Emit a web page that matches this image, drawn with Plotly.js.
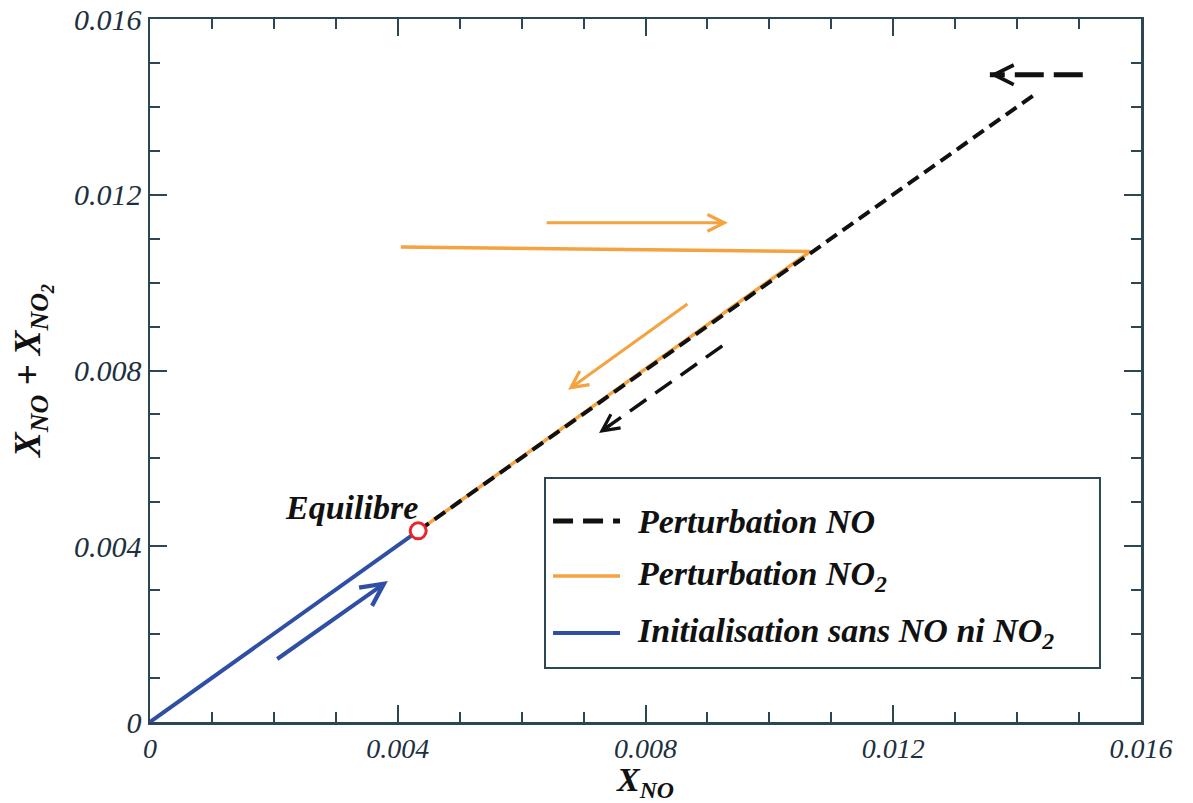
<!DOCTYPE html>
<html>
<head>
<meta charset="utf-8">
<script src="https://cdn.plot.ly/plotly-3.0.1.min.js"></script>
<style>html,body{margin:0;padding:0;background:#fff;}#chart{width:1193px;height:803px;}</style>
</head>
<body>
<div id="chart"></div>
<script>
// ---- data (mole fractions) ----
const blueX = [0, 0.00433];
const blueY = [0, 0.00435];
const orangeX = [0.00405, 0.01066, 0.00433];
const orangeY = [0.01081, 0.01071, 0.00435];
const blackX = [0.00433, 0.01427];
const blackY = [0.00435, 0.01427];
const eqX = [0.00433];
const eqY = [0.00435];

const tickVals = [0, 0.004, 0.008, 0.012, 0.016];
const tickText = ["0", "0.004", "0.008", "0.012", "0.016"];

const seriesNames = ["Perturbation NO", "Perturbation NO<sub>2</sub>", "Initialisation sans NO ni NO<sub>2</sub>"];
const xTitle = "<b><i>X<sub>NO</sub></i></b>";
const yTitle = "<b><i>X<sub>NO</sub> + X<sub>NO<sub>2</sub></sub></i></b>";

// arrows: [tailX, tailY, headX, headY]
const arrowOrangeRight = [0.00638, 0.01136, 0.00933, 0.01136];
const arrowOrangeDiag = [0.00870, 0.00954, 0.00675, 0.00756];
const arrowBlackDiag = [0.00924, 0.00856, 0.00725, 0.00658];
const arrowBlackTop = [0.01506, 0.01473, 0.01356, 0.01473];
const arrowBlue = [0.00203, 0.00141, 0.00384, 0.00321];

const C_BLACK = "#111111", C_ORANGE = "#f4a340", C_BLUE = "#2f4fa6", C_RED = "#e8262a";
const AX = "#2d4654";
const FONT = "Liberation Serif";

const traces = [
  {x: orangeX, y: orangeY, mode: "lines", line: {color: C_ORANGE, width: 3.5}, name: seriesNames[1], showlegend: false, hoverinfo: "skip"},
  {x: blackX, y: blackY, mode: "lines", line: {color: C_BLACK, width: 4, dash: "13px,7px"}, name: seriesNames[0], showlegend: false, hoverinfo: "skip"},
  {x: blueX, y: blueY, mode: "lines", line: {color: C_BLUE, width: 4}, name: seriesNames[2], showlegend: false, hoverinfo: "skip"},
  // dashed shafts of black arrows
  {x: [arrowBlackTop[0], arrowBlackTop[2]], y: [arrowBlackTop[1], arrowBlackTop[3]], mode: "lines", line: {color: C_BLACK, width: 5, dash: "29px,10px"}, showlegend: false, hoverinfo: "skip"},
  {x: [arrowBlackDiag[0], arrowBlackDiag[2]], y: [arrowBlackDiag[1], arrowBlackDiag[3]], mode: "lines", line: {color: C_BLACK, width: 3.5, dash: "20px,11px"}, showlegend: false, hoverinfo: "skip"},
  {x: eqX, y: eqY, mode: "markers", marker: {symbol: "circle", size: 16, color: "#ffffff", line: {color: C_RED, width: 3}}, showlegend: false, hoverinfo: "skip"}
];

function arrowAnn(a, color, width, head, stub) {
  let tx = a[0], ty = a[1];
  if (stub) { tx = a[2] + (a[0] - a[2]) * stub; ty = a[3] + (a[1] - a[3]) * stub; }
  return {x: a[2], y: a[3], ax: tx, ay: ty, xref: "x", yref: "y", axref: "x", ayref: "y",
    showarrow: true, arrowhead: head, arrowsize: 1.1, arrowwidth: width, arrowcolor: color, text: ""};
}

const annotations = [
  arrowAnn(arrowOrangeRight, C_ORANGE, 3, 5),
  arrowAnn(arrowOrangeDiag, C_ORANGE, 3, 5),
  arrowAnn(arrowBlue, C_BLUE, 4, 5),
  arrowAnn(arrowBlackDiag, C_BLACK, 3, 5, 0.1),
  arrowAnn(arrowBlackTop, C_BLACK, 3.5, 5, 0.12),
  {x: eqX[0], y: eqY[0], xref: "x", yref: "y", text: "<b><i>Equilibre</i></b>", showarrow: false,
   xanchor: "right", yanchor: "bottom", xshift: 2, yshift: 3, font: {family: FONT, size: 34, color: "#111"}}
];

// manual legend
const legRows = [0.2859, 0.2077, 0.1266];
const legLines = [
  {color: C_BLACK, width: 5, dash: "20px,10px"},
  {color: C_ORANGE, width: 3.5, dash: "solid"},
  {color: C_BLUE, width: 4, dash: "solid"}
];
const shapes = [
  {type: "rect", xref: "paper", yref: "paper", x0: 0.3986, x1: 0.9586, y0: 0.0768, y1: 0.3471,
   line: {color: AX, width: 2}, fillcolor: "rgba(255,255,255,0)"}
];
legRows.forEach((ry, i) => {
  shapes.push({type: "line", xref: "paper", yref: "paper", x0: 0.4067, x1: 0.4743, y0: ry, y1: ry, line: legLines[i]});
  annotations.push({xref: "paper", yref: "paper", x: 0.4894, y: ry, xanchor: "left", yanchor: "middle",
    text: "<b><i>" + seriesNames[i] + "</i></b>", showarrow: false, font: {family: FONT, size: 34, color: "#111"}});
});

const axisCommon = {
  range: [0, 0.016], tickmode: "array", tickvals: tickVals, ticktext: tickText,
  ticks: "inside", ticklen: 17, tickwidth: 2, tickcolor: AX,
  showline: true, linecolor: AX, linewidth: 2.5, mirror: "ticks",
  showgrid: false, zeroline: false,
  minor: {dtick: 0.001, ticks: "inside", ticklen: 10, tickwidth: 2, tickcolor: AX, showgrid: false}
};

const layout = {
  width: 1193, height: 803,
  margin: {l: 150, r: 52, t: 19, b: 81},
  paper_bgcolor: "#ffffff", plot_bgcolor: "#ffffff",
  showlegend: false,
  xaxis: Object.assign({}, axisCommon, {
    tickfont: {family: FONT, size: 28, style: "italic", color: "#1c3040"},
    title: {text: xTitle, font: {family: FONT, size: 34, color: "#111"}, standoff: 4}
  }),
  yaxis: Object.assign({}, axisCommon, {
    tickfont: {family: FONT, size: 30, style: "italic", color: "#1c3040"},
    title: {text: yTitle, font: {family: FONT, size: 37, color: "#111"}, standoff: 22}
  }),
  shapes: shapes,
  annotations: annotations
};

Plotly.newPlot("chart", traces, layout, {displayModeBar: false, staticPlot: true});
</script>
</body>
</html>
